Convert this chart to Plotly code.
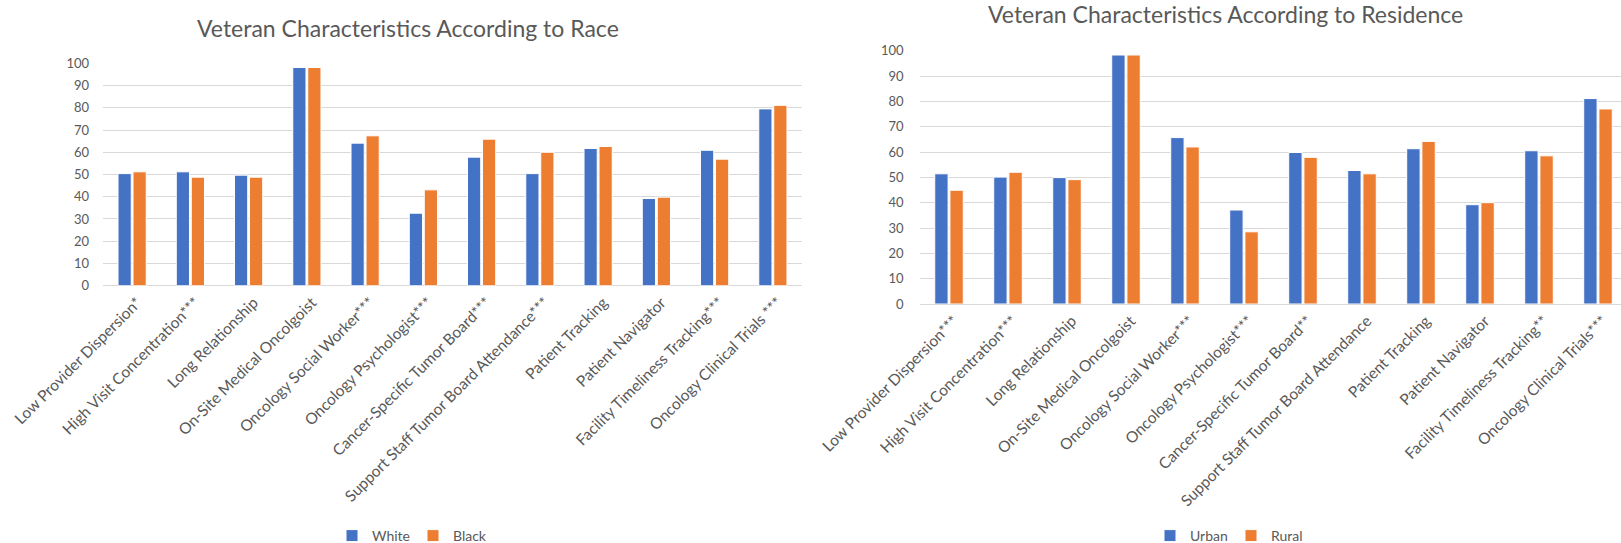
import plotly.graph_objects as go

race_categories = [
    "Low Provider Dispersion*",
    "High Visit Concentration***",
    "Long Relationship",
    "On-Site Medical Oncolgoist",
    "Oncology Social Worker***",
    "Oncology Psychologist***",
    "Cancer-Specific Tumor Board***",
    "Support Staff Tumor Board Attendance***",
    "Patient Tracking",
    "Patient Navigator",
    "Facility Timeliness Tracking***",
    "Oncology Clinical Trials ***",
]
white_values = [50.4, 51.2, 49.7, 98.1, 64.1, 32.6, 57.8, 50.4, 61.7, 39.2, 60.9, 79.5]
black_values = [51.2, 48.8, 48.8, 98.1, 67.4, 43.1, 65.9, 60.0, 62.6, 39.8, 56.9, 81.1]

res_categories = [
    "Low Provider Dispersion***",
    "High Visit Concentration***",
    "Long Relationship",
    "On-Site Medical Oncolgoist",
    "Oncology Social Worker***",
    "Oncology Psychologist***",
    "Cancer-Specific Tumor Board**",
    "Support Staff Tumor Board Attendance",
    "Patient Tracking",
    "Patient Navigator",
    "Facility Timeliness Tracking**",
    "Oncology Clinical Trials***",
]
urban_values = [51.4, 50.1, 49.9, 98.3, 65.7, 37.1, 59.8, 52.7, 61.3, 39.2, 60.5, 81.1]
rural_values = [44.9, 52.0, 49.1, 98.3, 62.0, 28.5, 57.9, 51.4, 64.2, 40.0, 58.5, 77.0]

y_ticks = [0, 10, 20, 30, 40, 50, 60, 70, 80, 90, 100]

BLUE = "#4472C4"
ORANGE = "#ED7D31"
TXT = "#595959"
GRID = "#D9D9D9"
FONT = "Lato"
W, H = 1621, 543

fig = go.Figure()
fig.add_trace(go.Bar(x=race_categories, y=white_values, name="White", marker_color=BLUE,
                     marker_line=dict(color="white", width=1), xaxis="x", yaxis="y", legend="legend"))
fig.add_trace(go.Bar(x=race_categories, y=black_values, name="Black", marker_color=ORANGE,
                     marker_line=dict(color="white", width=1), xaxis="x", yaxis="y", legend="legend"))
fig.add_trace(go.Bar(x=res_categories, y=urban_values, name="Urban", marker_color=BLUE,
                     marker_line=dict(color="white", width=1), xaxis="x2", yaxis="y2", legend="legend2"))
fig.add_trace(go.Bar(x=res_categories, y=rural_values, name="Rural", marker_color=ORANGE,
                     marker_line=dict(color="white", width=1), xaxis="x2", yaxis="y2", legend="legend2"))

xcommon = dict(type="category", tickangle=-45, showgrid=False, showline=False, zeroline=False,
               automargin=False, tickfont=dict(family=FONT, size=15.5, color=TXT), ticks="",
               ticklabelshift=5, ticklabelstandoff=4)
ycommon = dict(range=[0, 100], tickvals=y_ticks, showgrid=True, gridcolor=GRID, gridwidth=1,
               zeroline=True, zerolinecolor=GRID, zerolinewidth=1, showline=False, ticks="",
               automargin=False, tickfont=dict(family=FONT, size=13, color=TXT))

left_x0, left_x1 = 103 / W, 802 / W
left_y0, left_y1 = (H - 285.7) / H, (H - 63.3) / H
right_x0, right_x1 = 919.5 / W, 1.0
right_y0, right_y1 = (H - 304) / H, (H - 50.7) / H

legend_common = dict(orientation="h", yanchor="middle", xanchor="center",
                     font=dict(family=FONT, size=14, color=TXT), itemwidth=30,
                     entrywidth=36, entrywidthmode="pixels", bgcolor="rgba(0,0,0,0)")

fig.update_layout(
    width=W, height=H,
    margin=dict(l=0, r=0, t=0, b=0, autoexpand=False),
    paper_bgcolor="white", plot_bgcolor="white",
    barmode="group", bargap=0.485, bargroupgap=0.12,
    font=dict(family=FONT, color=TXT),
    xaxis=dict(domain=[left_x0, left_x1], anchor="y", range=[-0.5, 11.5], **xcommon),
    yaxis=dict(domain=[left_y0, left_y1], anchor="x", ticklabelstandoff=13, **ycommon),
    xaxis2=dict(domain=[right_x0, right_x1], anchor="y2", range=[-0.5, 11.39], **xcommon),
    yaxis2=dict(domain=[right_y0, right_y1], anchor="x2", ticklabelstandoff=15, **ycommon),
    legend=dict(x=413 / W, y=(H - 536) / H, **legend_common),
    legend2=dict(x=1231 / W, y=(H - 536) / H, **legend_common),
    annotations=[
        dict(text="Veteran Characteristics According to Race", x=408 / W, y=(H - 28) / H,
             xref="paper", yref="paper", xanchor="center", yanchor="middle", showarrow=False,
             font=dict(family=FONT, size=23, color=TXT)),
        dict(text="Veteran Characteristics According to Residence", x=1225 / W, y=(H - 14) / H,
             xref="paper", yref="paper", xanchor="center", yanchor="middle", showarrow=False,
             font=dict(family=FONT, size=23, color=TXT)),
    ],
)

fig.write_html("out.html")
